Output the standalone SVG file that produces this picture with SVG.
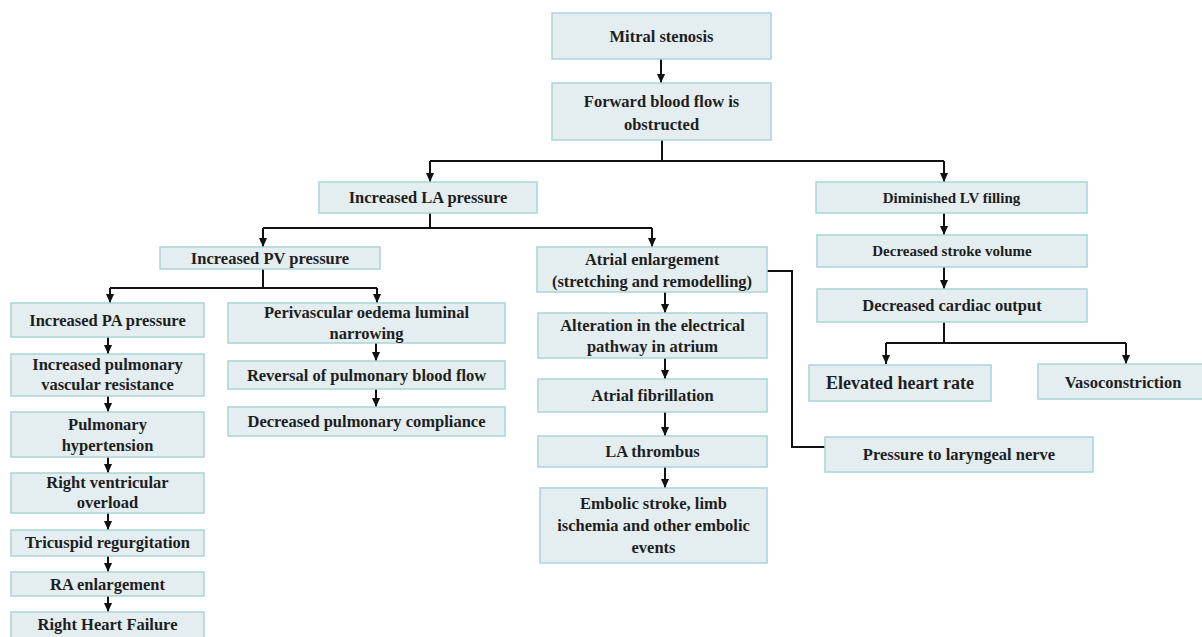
<svg xmlns="http://www.w3.org/2000/svg" width="1202" height="637" viewBox="0 0 1202 637">
<style>
.box{fill:#e4eef1;stroke:#a9d5d8;stroke-width:1.5}
text{font-family:"Liberation Serif","Times New Roman",serif;font-weight:bold;font-size:16.5px;fill:#1e1e1e;text-anchor:middle}
.s{font-size:15px}
.l{font-size:18px}
.c{fill:none;stroke:#111;stroke-width:2}
</style>
<defs>
<marker id="ah" viewBox="0 0 10 10" refX="10" refY="5" markerWidth="9" markerHeight="9" markerUnits="userSpaceOnUse" orient="auto"><path d="M0,0.5 L10,5 L0,9.5 z" fill="#111"/></marker>
</defs>
<rect width="1202" height="637" fill="#fff"/>
<g id="connectors">
<path class="c" d="M661,59 V83" marker-end="url(#ah)"/>
<path class="c" d="M662,140 V161 M430,161 H944"/>
<path class="c" d="M430,161 V182" marker-end="url(#ah)"/>
<path class="c" d="M944,161 V182" marker-end="url(#ah)"/>
<path class="c" d="M430,213 V228 M263,228 H652"/>
<path class="c" d="M263,228 V247" marker-end="url(#ah)"/>
<path class="c" d="M652,228 V247" marker-end="url(#ah)"/>
<path class="c" d="M263,269 V288 M110,288 H377"/>
<path class="c" d="M110,288 V303" marker-end="url(#ah)"/>
<path class="c" d="M377,288 V303" marker-end="url(#ah)"/>
<path class="c" d="M108,337 V354" marker-end="url(#ah)"/>
<path class="c" d="M108,396 V412" marker-end="url(#ah)"/>
<path class="c" d="M108,457 V473" marker-end="url(#ah)"/>
<path class="c" d="M108,513 V530" marker-end="url(#ah)"/>
<path class="c" d="M108,556 V572" marker-end="url(#ah)"/>
<path class="c" d="M108,596 V612" marker-end="url(#ah)"/>
<path class="c" d="M376,343 V361" marker-end="url(#ah)"/>
<path class="c" d="M376,389 V407" marker-end="url(#ah)"/>
<path class="c" d="M665,292 V313" marker-end="url(#ah)"/>
<path class="c" d="M665,358 V379" marker-end="url(#ah)"/>
<path class="c" d="M665,412 V436" marker-end="url(#ah)"/>
<path class="c" d="M665,467 V488" marker-end="url(#ah)"/>
<path class="c" d="M767,271 H792 V447 H825"/>
<path class="c" d="M944,213 V235" marker-end="url(#ah)"/>
<path class="c" d="M944,267 V289" marker-end="url(#ah)"/>
<path class="c" d="M944,322 V343 M886,343 H1126"/>
<path class="c" d="M886,343 V364" marker-end="url(#ah)"/>
<path class="c" d="M1126,343 V364" marker-end="url(#ah)"/>
</g>
<g id="n1"><rect class="box" x="552" y="13" width="219" height="46"/><text x="661.5" y="42">Mitral stenosis</text></g>
<g id="n2"><rect class="box" x="552" y="83" width="219" height="57"/><text x="661.5" y="107">Forward blood flow is</text><text x="661.5" y="130">obstructed</text></g>
<g id="n3"><rect class="box" x="319" y="182" width="218" height="31"/><text x="428" y="203">Increased LA pressure</text></g>
<g id="n4"><rect class="box" x="816" y="182" width="271" height="31"/><text class="s" x="951.5" y="203">Diminished LV filling</text></g>
<g id="n5"><rect class="box" x="160" y="247" width="220" height="22"/><text x="270" y="264">Increased PV pressure</text></g>
<g id="n6"><rect class="box" x="537" y="247" width="230" height="45"/><text x="652" y="265">Atrial enlargement</text><text x="652" y="287">(stretching and remodelling)</text></g>
<g id="n7"><rect class="box" x="817" y="235" width="270" height="32"/><text class="s" x="952" y="256">Decreased stroke volume</text></g>
<g id="n8"><rect class="box" x="817" y="289" width="270" height="33"/><text x="952" y="311">Decreased cardiac output</text></g>
<g id="n9"><rect class="box" x="809" y="365" width="182" height="36"/><text class="l" x="900" y="389">Elevated heart rate</text></g>
<g id="n10"><rect class="box" x="1038" y="364" width="170" height="35"/><text x="1123" y="388">Vasoconstriction</text></g>
<g id="n11"><rect class="box" x="825" y="437" width="268" height="35"/><text x="959" y="460">Pressure to laryngeal nerve</text></g>
<g id="n12"><rect class="box" x="11" y="303" width="193" height="34"/><text x="107.5" y="326">Increased PA pressure</text></g>
<g id="n13"><rect class="box" x="11" y="354" width="193" height="42"/><text x="107.5" y="370">Increased pulmonary</text><text x="107.5" y="390">vascular resistance</text></g>
<g id="n14"><rect class="box" x="11" y="412" width="193" height="45"/><text x="107.5" y="430">Pulmonary</text><text x="107.5" y="451">hypertension</text></g>
<g id="n15"><rect class="box" x="11" y="473" width="193" height="40"/><text x="107.5" y="488">Right ventricular</text><text x="107.5" y="508">overload</text></g>
<g id="n16"><rect class="box" x="11" y="530" width="193" height="26"/><text x="107.5" y="548">Tricuspid regurgitation</text></g>
<g id="n17"><rect class="box" x="11" y="572" width="193" height="24"/><text x="107.5" y="590">RA enlargement</text></g>
<g id="n18"><rect class="box" x="11" y="612" width="193" height="30"/><text x="107.5" y="630">Right Heart Failure</text></g>
<g id="n19"><rect class="box" x="228" y="303" width="277" height="40"/><text x="366.5" y="318">Perivascular oedema luminal</text><text x="366.5" y="339">narrowing</text></g>
<g id="n20"><rect class="box" x="228" y="361" width="277" height="28"/><text x="366.5" y="380.5">Reversal of pulmonary blood flow</text></g>
<g id="n21"><rect class="box" x="228" y="407" width="277" height="29"/><text x="366.5" y="427">Decreased pulmonary compliance</text></g>
<g id="n22"><rect class="box" x="538" y="313" width="229" height="45"/><text x="652.5" y="331">Alteration in the electrical</text><text x="652.5" y="352">pathway in atrium</text></g>
<g id="n23"><rect class="box" x="538" y="379" width="229" height="33"/><text x="652.5" y="401">Atrial fibrillation</text></g>
<g id="n24"><rect class="box" x="538" y="436" width="229" height="31"/><text x="652.5" y="457">LA thrombus</text></g>
<g id="n25"><rect class="box" x="540" y="488" width="227" height="75"/><text x="653.5" y="509">Embolic stroke, limb</text><text x="653.5" y="531">ischemia and other embolic</text><text x="653.5" y="553">events</text></g>
</svg>
